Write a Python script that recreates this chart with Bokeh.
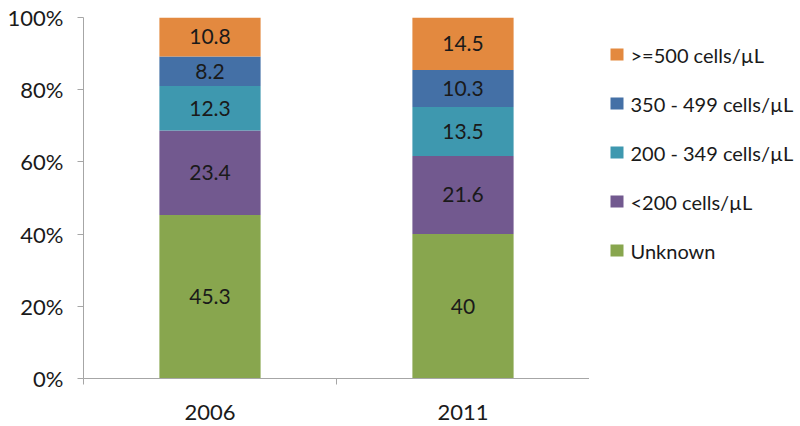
import numpy as np
from bokeh.plotting import figure
from bokeh.layouts import row
from bokeh.models import (ColumnDataSource, Range1d, FixedTicker, NumeralTickFormatter)
from bokeh.core.properties import value
from bokeh.embed import file_html
from bokeh.resources import INLINE

years = ["2006", "2011"]
series = ["Unknown", "<200 cells/µL", "200 - 349 cells/µL", "350 - 499 cells/µL", ">=500 cells/µL"]
unknown = [45.3, 40]
lt200 = [23.4, 21.6]
c200_349 = [12.3, 13.5]
c350_499 = [8.2, 10.3]
ge500 = [10.8, 14.5]
colors = ["#88A64E", "#72598F", "#3E98AF", "#4470A6", "#E3893F"]

FONT = "Lato"
raw = np.array([unknown, lt200, c200_349, c350_499, ge500], dtype=float)
totals = raw.sum(axis=0)
frac = raw / totals
xs = [0.5, 1.5]
keys = ["s%d" % i for i in range(len(series))]
data = {"x": xs}
for k, row_vals in zip(keys, frac):
    data[k] = list(row_vals)
source = ColumnDataSource(data)

p = figure(width=589, height=426, output_backend="svg", toolbar_location=None,
           x_range=Range1d(0, 2), y_range=Range1d(0, 1),
           min_border_left=83, min_border_right=0, min_border_top=17, min_border_bottom=48)
p.outline_line_color = None
p.grid.visible = False

renderers = p.vbar_stack(keys, x="x", width=0.4, source=source,
                         fill_color=colors, line_color=None)

# segment labels
lx, ly, lt = [], [], []
cum = np.cumsum(frac, axis=0)
for i in range(len(series)):
    for j in range(len(xs)):
        lx.append(xs[j])
        ly.append(cum[i, j] - frac[i, j] / 2)
        lt.append("%g" % raw[i, j])
lab = ColumnDataSource(dict(x=lx, y=ly, t=lt))
p.text(x="x", y="y", text="t", source=lab, text_align="center", text_baseline="middle",
       text_font=value(FONT), text_font_size="21px", text_color="#1a1a1a")

# axes
ax = p.xaxis[0]
ax.ticker = FixedTicker(ticks=xs, minor_ticks=[0, 1, 2])
ax.major_label_overrides = {0.5: years[0], 1.5: years[1]}
ax.major_tick_in = 0
ax.major_tick_out = 0
ax.minor_tick_in = 0
ax.minor_tick_out = 6
ax.minor_tick_line_color = "#A6A6A6"
ax.axis_line_color = "#A6A6A6"
ax.major_label_standoff = 20
ax.major_label_text_font = FONT
ax.major_label_text_font_size = "22px"
ax.major_label_text_color = "#1a1a1a"

ay = p.yaxis[0]
ay.ticker = FixedTicker(ticks=[0, 0.2, 0.4, 0.6, 0.8, 1.0])
ay.formatter = NumeralTickFormatter(format="0%")
ay.major_tick_in = 0
ay.major_tick_out = 6
ay.minor_tick_line_color = None
ay.major_tick_line_color = "#A6A6A6"
ay.axis_line_color = "#A6A6A6"
ay.major_label_standoff = 14
ay.major_label_text_font = FONT
ay.major_label_text_font_size = "22px"
ay.major_label_text_color = "#1a1a1a"

# legend panel (separate figure; its frame is aligned with the chart's frame,
# coordinates are in page pixels, y downward)
lf = figure(width=211, height=426, output_backend="svg", toolbar_location=None,
            x_range=Range1d(0, 211), y_range=Range1d(378, 17),
            x_axis_location=None, y_axis_location=None,
            min_border_left=0, min_border_right=0, min_border_top=17, min_border_bottom=48)
lf.grid.visible = False
lf.outline_line_color = None
order = list(reversed(range(len(series))))
leg = ColumnDataSource(dict(
    y=[54 + 49 * k for k in range(len(order))],
    label=[series[i] for i in order],
    color=[colors[i] for i in order],
))
lf.rect(x=27.5, y="y", width=13, height=12, source=leg, fill_color="color", line_color=None)
lf.text(x=41, y="y", text="label", source=leg, text_baseline="middle", text_align="left",
        text_font=value(FONT), text_font_size="20px", text_color="#1a1a1a")

layout = row(p, lf, spacing=0)
open("out.html", "w").write(file_html(layout, INLINE))
